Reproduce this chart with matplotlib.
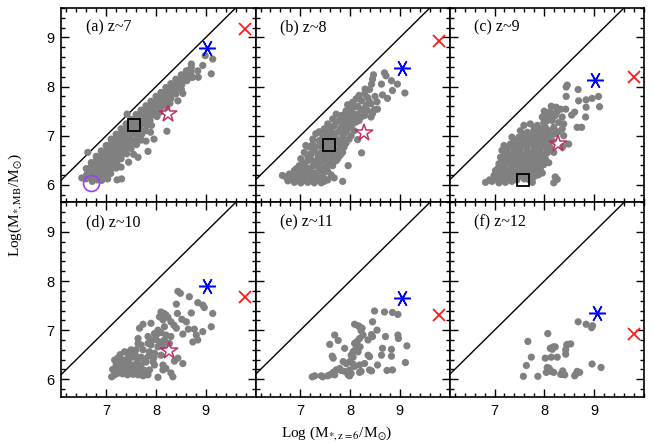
import matplotlib
matplotlib.use('Agg')
import matplotlib.pyplot as plt
from matplotlib.ticker import MultipleLocator

plt.rcParams['font.family'] = ['Liberation Serif', 'DejaVu Serif']
plt.rcParams['mathtext.fontset'] = 'stix'

panel_labels = ['(a) z~7', '(b) z~8', '(c) z~9', '(d) z~10', '(e) z~11', '(f) z~12']
xticks = [7, 8, 9]
yticks = [6, 7, 8, 9]

gray_a = [
    (6.60, 6.33), (6.61, 6.21), (6.59, 6.12),
    (6.70, 6.45), (6.69, 6.36), (6.71, 6.26), (6.70, 6.16), (6.72, 6.07),
    (6.80, 6.58), (6.79, 6.48), (6.81, 6.39), (6.80, 6.29), (6.78, 6.19), (6.82, 6.10),
    (6.90, 6.69), (6.91, 6.60), (6.89, 6.50), (6.90, 6.39), (6.92, 6.29), (6.89, 6.19), (6.91, 6.09),
    (7.00, 6.80), (7.01, 6.70), (6.99, 6.61), (7.00, 6.49), (7.02, 6.39), (6.99, 6.29), (7.01, 6.19),
    (7.10, 6.93), (7.09, 6.83), (7.11, 6.74), (7.10, 6.63), (7.08, 6.53), (7.11, 6.43), (7.10, 6.33), (7.09, 6.23),
    (7.20, 7.03), (7.21, 6.93), (7.19, 6.83), (7.20, 6.73), (7.22, 6.64), (7.19, 6.53), (7.21, 6.43), (7.20, 6.34),
    (7.30, 7.14), (7.29, 7.04), (7.31, 6.94), (7.30, 6.83), (7.28, 6.73), (7.31, 6.63), (7.30, 6.53),
    (7.40, 7.24), (7.41, 7.14), (7.39, 7.04), (7.40, 6.93), (7.42, 6.83), (7.39, 6.73), (7.41, 6.63),
    (7.50, 7.33), (7.49, 7.24), (7.51, 7.14), (7.50, 7.04), (7.48, 6.94), (7.51, 6.83), (7.50, 6.74),
    (7.60, 7.43), (7.61, 7.33), (7.59, 7.23), (7.60, 7.12), (7.62, 7.02), (7.59, 6.92), (7.61, 6.82),
    (7.70, 7.52), (7.69, 7.42), (7.71, 7.32), (7.70, 7.22), (7.68, 7.12), (7.71, 7.02), (7.70, 6.91),
    (7.80, 7.61), (7.81, 7.51), (7.79, 7.41), (7.80, 7.31), (7.82, 7.21), (7.79, 7.10),
    (7.90, 7.70), (7.89, 7.61), (7.91, 7.51), (7.90, 7.41), (7.88, 7.31), (7.91, 7.21),
    (8.00, 7.80), (8.01, 7.69), (7.99, 7.59), (8.00, 7.49), (8.02, 7.39),
    (8.10, 7.88), (8.09, 7.78), (8.11, 7.68), (8.10, 7.58), (8.08, 7.48),
    (8.20, 7.98), (8.21, 7.88), (8.19, 7.78), (8.20, 7.68), (8.22, 7.58),
    (8.30, 8.06), (8.29, 7.96), (8.31, 7.86), (8.30, 7.76), (8.28, 7.66),
    (8.40, 8.15), (8.41, 8.05), (8.39, 7.95), (8.40, 7.85),
    (8.51, 8.24), (8.50, 8.14), (8.52, 8.04), (8.51, 7.94),
    (8.61, 8.32), (8.60, 8.22), (8.62, 8.12),
    (8.71, 8.39), (8.70, 8.29), (8.72, 8.19),
    (8.99, 8.63), (9.14, 8.56), (8.71, 8.46), (8.94, 8.43), (9.11, 8.26), (8.84, 8.32),
    (8.64, 8.32), (8.74, 8.19), (8.85, 8.19), (8.54, 8.12), (8.44, 7.98), (8.54, 7.86),
    (8.37, 7.86), (8.44, 7.71), (8.00, 7.41), (8.22, 7.09), (7.89, 7.07), (7.80, 6.89),
    (7.96, 6.93), (7.84, 6.68), (7.55, 6.62), (7.45, 6.46), (7.64, 6.56), (7.30, 6.36),
    (7.22, 6.10), (7.31, 6.12), (7.03, 6.12), (6.51, 6.14), (6.63, 6.66), (7.42, 7.44),
]

gray_b = [
    (8.69, 8.28), (8.72, 8.22), (8.47, 8.24), (8.45, 8.15), (8.83, 8.12), (8.95, 8.05),
    (8.63, 8.05), (8.85, 7.92), (9.10, 7.87), (8.43, 8.05), (8.39, 7.94), (8.65, 7.83),
    (8.75, 7.76), (8.54, 7.69), (8.29, 7.85), (8.18, 7.82), (8.35, 7.78), (8.23, 7.71),
    (8.12, 7.75), (8.05, 7.68), (8.42, 7.65), (8.32, 7.61), (8.49, 7.53), (8.55, 7.54),
    (7.95, 7.63), (8.08, 7.58), (8.22, 7.54), (8.35, 7.51), (7.92, 7.51), (8.03, 7.48),
    (8.15, 7.44), (8.29, 7.41), (8.42, 7.38), (7.72, 7.44), (7.82, 7.41), (7.95, 7.38),
    (8.08, 7.34), (8.18, 7.31), (7.65, 7.34), (7.78, 7.31), (7.92, 7.27), (8.05, 7.24),
    (7.55, 7.24), (7.68, 7.20), (7.82, 7.17), (7.95, 7.14), (8.08, 7.10), (7.48, 7.14),
    (7.62, 7.10), (7.75, 7.07), (7.88, 7.04), (8.02, 7.00), (7.31, 7.04), (7.45, 7.00),
    (7.58, 6.97), (7.72, 6.93), (7.85, 6.90), (7.25, 6.93), (7.38, 6.90), (7.52, 6.87),
    (7.65, 6.85), (7.78, 6.83), (7.88, 6.77), (8.15, 6.92), (8.23, 6.65), (7.11, 6.80),
    (7.18, 6.77), (7.31, 6.77), (7.45, 6.73), (7.58, 6.73), (7.72, 6.70), (7.85, 6.66),
    (7.08, 6.66), (7.21, 6.63), (7.35, 6.61), (7.48, 6.60), (7.62, 6.61), (7.75, 6.53),
    (7.72, 6.49), (7.01, 6.53), (7.15, 6.49), (7.28, 6.47), (7.42, 6.46), (7.55, 6.46),
    (6.98, 6.39), (7.11, 6.36), (7.25, 6.38), (7.38, 6.32), (7.52, 6.36), (7.65, 6.39),
    (7.96, 6.39), (6.88, 6.29), (7.01, 6.26), (7.15, 6.27), (7.28, 6.24), (7.42, 6.26),
    (7.55, 6.27), (6.78, 6.22), (6.64, 6.19), (6.71, 6.16), (6.81, 6.12), (6.95, 6.11),
    (7.08, 6.09), (7.21, 6.09), (7.35, 6.11), (7.48, 6.12), (7.68, 6.14), (7.85, 6.07),
    (6.88, 6.05), (7.01, 6.04), (7.15, 6.05), (7.28, 6.04), (7.42, 6.04), (7.48, 6.07),
    (6.75, 6.08), (6.85, 6.18), (6.95, 6.22), (7.05, 6.15), (7.12, 6.20), (7.22, 6.15),
    (7.32, 6.18), (7.45, 6.18), (7.55, 6.10), (7.62, 6.20), (6.92, 6.33), (7.05, 6.32),
    (7.18, 6.32), (7.32, 6.40), (7.45, 6.33), (7.58, 6.40), (7.05, 6.45), (7.20, 6.55),
    (7.35, 6.52), (7.48, 6.53), (7.62, 6.50), (7.15, 6.58), (7.28, 6.70), (7.42, 6.66),
    (7.55, 6.62), (7.68, 6.62), (7.80, 6.60), (7.25, 6.83), (7.40, 6.80), (7.52, 6.80),
    (7.65, 6.78), (7.80, 6.75), (7.92, 6.85), (7.45, 6.93), (7.60, 6.92), (7.72, 6.87),
    (7.85, 6.97), (7.98, 6.93), (7.38, 7.08), (7.52, 7.05), (7.68, 7.02), (7.80, 7.12),
    (7.92, 7.08), (7.58, 7.18), (7.72, 7.28), (7.88, 7.22), (8.00, 7.20), (7.85, 7.35),
    (7.98, 7.30), (8.12, 7.28), (7.90, 7.45), (8.08, 7.42), (8.22, 7.38), (8.00, 7.55),
    (8.15, 7.60), (8.28, 7.50), (8.38, 7.70), (8.30, 7.95), (8.50, 7.80), (8.45, 7.45),
]

gray_c = [
    (8.46, 8.03), (8.44, 7.99), (8.68, 7.94), (8.44, 7.80), (8.69, 7.71), (8.84, 7.73),
    (8.96, 7.76), (9.09, 7.80), (8.84, 7.58), (9.11, 7.59), (8.83, 7.38), (8.14, 7.60),
    (8.24, 7.58), (8.33, 7.54), (8.12, 7.49), (8.06, 7.44), (8.43, 7.54), (8.55, 7.42),
    (8.61, 7.48), (7.96, 7.38), (8.09, 7.38), (8.22, 7.41), (8.36, 7.38), (7.99, 7.27),
    (8.16, 7.31), (8.29, 7.27), (8.39, 7.24), (7.59, 7.21), (7.72, 7.24), (7.86, 7.21),
    (8.02, 7.17), (8.19, 7.17), (8.36, 7.14), (8.66, 7.17), (8.75, 7.17), (7.52, 7.10),
    (7.66, 7.07), (7.79, 7.10), (7.92, 7.07), (8.06, 7.06), (8.22, 7.04), (8.39, 7.00),
    (7.35, 6.97), (7.49, 6.97), (7.62, 6.94), (7.76, 6.95), (7.89, 6.97), (8.02, 6.94),
    (8.16, 6.90), (8.49, 6.83), (8.37, 6.77), (7.19, 6.80), (7.32, 6.83), (7.45, 6.83),
    (7.59, 6.80), (7.72, 6.83), (7.86, 6.80), (7.99, 6.80), (8.12, 6.76), (7.15, 6.70),
    (7.25, 6.66), (7.39, 6.70), (7.52, 6.66), (7.66, 6.68), (7.79, 6.70), (7.92, 6.68),
    (8.06, 6.65), (8.19, 6.66), (7.12, 6.56), (7.22, 6.53), (7.35, 6.56), (7.49, 6.53),
    (7.62, 6.54), (7.76, 6.56), (7.89, 6.53), (8.02, 6.53), (7.09, 6.43), (7.19, 6.39),
    (7.32, 6.43), (7.45, 6.41), (7.59, 6.43), (7.72, 6.39), (7.86, 6.43), (7.99, 6.41),
    (8.09, 6.45), (7.02, 6.29), (7.15, 6.27), (7.29, 6.29), (7.42, 6.26), (7.56, 6.29),
    (7.69, 6.27), (7.82, 6.29), (7.96, 6.24), (8.22, 6.16), (6.99, 6.19), (7.12, 6.16),
    (7.25, 6.19), (7.39, 6.16), (7.52, 6.18), (7.66, 6.19), (7.79, 6.16), (6.82, 6.05),
    (6.95, 6.07), (7.09, 6.04), (7.22, 6.05), (7.35, 6.07), (7.76, 6.05), (8.26, 6.11),
    (8.19, 6.04),
    (6.90, 6.10), (7.02, 6.12), (7.15, 6.10), (7.28, 6.12), (7.45, 6.10), (7.60, 6.12),
    (7.70, 6.10), (7.05, 6.22), (7.19, 6.22), (7.32, 6.24), (7.46, 6.21), (7.60, 6.24),
    (7.72, 6.22), (7.88, 6.20), (7.08, 6.35), (7.22, 6.33), (7.38, 6.35), (7.52, 6.35),
    (7.66, 6.34), (7.79, 6.35), (7.92, 6.32), (7.16, 6.48), (7.29, 6.48), (7.42, 6.48),
    (7.55, 6.48), (7.69, 6.47), (7.82, 6.48), (7.95, 6.48), (7.20, 6.61), (7.32, 6.61),
    (7.45, 6.61), (7.58, 6.60), (7.72, 6.62), (7.85, 6.62), (7.98, 6.60), (7.26, 6.75),
    (7.40, 6.76), (7.52, 6.74), (7.65, 6.75), (7.80, 6.75), (7.92, 6.74), (8.06, 6.72),
    (7.40, 6.90), (7.55, 6.88), (7.68, 6.88), (7.82, 6.88), (7.95, 6.88), (8.09, 6.86),
    (7.58, 7.02), (7.72, 7.00), (7.85, 7.02), (7.99, 7.01), (8.12, 6.98), (7.80, 7.15),
    (7.93, 7.14), (8.10, 7.10), (8.28, 7.08), (8.05, 7.30), (8.25, 7.48), (8.00, 7.50),
]

gray_d = [
    (8.44, 7.79), (8.49, 7.75), (8.67, 7.68), (8.84, 7.56), (8.94, 7.51), (8.97, 7.46),
    (8.41, 7.53), (8.71, 7.35), (9.14, 7.34), (8.43, 7.34), (8.10, 7.37), (8.16, 7.34),
    (8.20, 7.31), (8.07, 7.27), (8.24, 7.26), (8.14, 7.21), (8.30, 7.17), (8.36, 7.10),
    (8.52, 7.22), (8.61, 7.17), (8.41, 7.04), (8.17, 7.07), (7.90, 7.14), (7.74, 7.12),
    (7.67, 7.04), (8.77, 7.02), (8.65, 7.02), (9.11, 7.07), (8.94, 6.97), (8.04, 7.00),
    (7.97, 6.93), (8.10, 6.95), (8.20, 6.90), (8.30, 6.87), (8.54, 6.92), (8.81, 6.90),
    (7.64, 6.83), (7.84, 6.87), (8.00, 6.81), (8.07, 6.76), (8.17, 6.80), (8.27, 6.73),
    (8.74, 6.76), (8.84, 6.80), (7.64, 6.73), (7.70, 6.70), (7.84, 6.73), (7.90, 6.70),
    (8.04, 6.66), (8.14, 6.68), (7.37, 6.56), (7.50, 6.60), (7.60, 6.60), (7.74, 6.60),
    (7.87, 6.56), (7.97, 6.53), (8.10, 6.49), (8.44, 6.43), (8.37, 6.37), (7.17, 6.39),
    (7.23, 6.43), (7.33, 6.39), (7.43, 6.43), (7.54, 6.45), (7.64, 6.41), (7.77, 6.41),
    (7.94, 6.36), (7.20, 6.29), (7.30, 6.33), (7.40, 6.29), (7.50, 6.29), (7.60, 6.31),
    (7.70, 6.29), (7.97, 6.29), (8.14, 6.29), (8.20, 6.22), (8.14, 6.19), (8.54, 6.32),
    (7.13, 6.20), (7.27, 6.20), (7.37, 6.22), (7.47, 6.19), (7.57, 6.22), (7.67, 6.19),
    (7.77, 6.18), (7.87, 6.19), (8.30, 6.13), (7.84, 6.09), (7.17, 6.09), (7.23, 6.12),
    (7.33, 6.11), (7.43, 6.09), (7.54, 6.10), (7.64, 6.09), (7.74, 6.07), (8.04, 6.04),
    (8.34, 6.05), (7.11, 6.05),
    (7.25, 6.27), (7.45, 6.35), (7.55, 6.15), (7.35, 6.15), (7.65, 6.25), (7.80, 6.35),
    (7.28, 6.50), (7.58, 6.50), (7.85, 6.47), (7.20, 6.13), (7.70, 6.45), (7.45, 6.55),
    (7.96, 6.45), (7.92, 6.80), (8.02, 6.92),
]

gray_e = [
    (8.49, 7.39), (8.69, 7.37), (8.85, 7.36), (8.96, 7.32), (8.45, 7.17), (8.09, 7.12),
    (8.16, 7.09), (8.19, 7.07), (8.24, 7.04), (8.22, 6.99), (8.54, 7.00), (7.69, 6.90),
    (8.26, 6.90), (8.43, 6.91), (8.45, 6.87), (8.71, 6.87), (8.96, 6.90), (8.97, 6.83),
    (7.76, 6.79), (7.59, 6.71), (8.19, 6.83), (8.14, 6.77), (8.36, 6.80), (8.09, 6.73),
    (7.89, 6.63), (8.20, 6.66), (8.11, 6.61), (8.06, 6.56), (8.16, 6.56), (9.14, 6.68),
    (8.65, 6.63), (8.83, 6.61), (7.64, 6.47), (7.66, 6.43), (8.02, 6.49), (8.06, 6.45),
    (8.36, 6.49), (8.39, 6.46), (8.63, 6.49), (8.83, 6.47), (7.86, 6.36), (7.92, 6.32),
    (7.99, 6.36), (8.06, 6.31), (8.09, 6.26), (8.29, 6.32), (8.19, 6.29), (8.55, 6.29),
    (9.11, 6.34), (7.79, 6.22), (7.72, 6.19), (7.82, 6.18), (7.99, 6.19), (8.02, 6.12),
    (8.22, 6.16), (8.39, 6.19), (8.43, 6.17), (8.74, 6.18), (8.85, 6.19), (7.66, 6.14),
    (7.69, 6.09), (7.89, 6.16), (7.96, 6.09), (8.19, 6.14), (7.24, 6.05), (7.29, 6.07),
    (7.42, 6.07), (7.45, 6.05), (7.55, 6.07), (7.59, 6.09), (7.99, 6.07),
]

gray_f = [
    (8.68, 7.17), (8.84, 7.12), (8.95, 7.05), (8.97, 7.09), (8.07, 6.93), (7.67, 6.77),
    (8.18, 6.66), (8.12, 6.63), (8.22, 6.66), (8.16, 6.61), (8.47, 6.71), (8.53, 6.72),
    (8.45, 6.70), (8.43, 6.60), (8.43, 6.51), (7.74, 6.45), (8.02, 6.43), (8.14, 6.45),
    (8.26, 6.45), (7.64, 6.28), (8.96, 6.31), (9.14, 6.24), (8.06, 6.24), (8.10, 6.22),
    (8.07, 6.18), (8.14, 6.16), (8.19, 6.14), (8.04, 6.14), (8.37, 6.17), (8.36, 6.10),
    (8.41, 6.09), (8.33, 6.10), (8.66, 6.16), (8.63, 6.10), (8.61, 6.07), (8.71, 6.14),
    (7.87, 6.06), (7.58, 6.06),
]

gray_sets = [gray_a, gray_b, gray_c, gray_d, gray_e, gray_f]

blue_pts = [(9.03, 8.78), (9.05, 8.38), (9.01, 8.14), (9.03, 7.90), (9.05, 7.66), (9.05, 7.34)]
red_pts = [(9.78, 9.18), (9.79, 8.93), (9.80, 8.20), (9.78, 7.68), (9.79, 7.30), (9.80, 6.93)]
star_pts = [(8.25, 7.44), (8.27, 7.05), (8.27, 6.83), (8.27, 6.57), None, None]
square_pts = [(7.56, 7.21), (7.57, 6.81), (7.57, 6.09), None, None, None]
circle_pts = [(6.70, 6.03), None, None, None, None, None]

fig, axes = plt.subplots(2, 3, figsize=(6.53, 4.45), dpi=100, sharex=True, sharey=True)
fig.subplots_adjust(left=0.094, right=0.986, top=0.982, bottom=0.108, wspace=0, hspace=0)

for i, ax in enumerate(axes.flat):
    ax.axline((6.0, 6.0), slope=1, color='black', lw=1.0, zorder=1)
    gx = [p[0] for p in gray_sets[i]]
    gy = [p[1] for p in gray_sets[i]]
    ax.scatter(gx, gy, s=27, c='#808080', edgecolors='none', zorder=2)
    ax.plot([blue_pts[i][0]], [blue_pts[i][1]], ls='none', marker=(6, 2, 30), ms=12,
            mec='#0000ff', mew=1.1, zorder=4)
    ax.plot([red_pts[i][0]], [red_pts[i][1]], ls='none', marker='x', ms=8,
            mec='#ff1a1a', mew=1.3, zorder=4)
    if star_pts[i] is not None:
        ax.plot([star_pts[i][0]], [star_pts[i][1]], ls='none', marker='*', ms=13,
                mfc='none', mec='#c0306a', mew=1.1, zorder=4)
    if square_pts[i] is not None:
        ax.plot([square_pts[i][0]], [square_pts[i][1]], ls='none', marker='s', ms=8.5,
                mfc='none', mec='black', mew=1.3, zorder=4)
    if circle_pts[i] is not None:
        ax.plot([circle_pts[i][0]], [circle_pts[i][1]], ls='none', marker='o', ms=11.5,
                mfc='none', mec='#a040f0', mew=1.2, zorder=4)

    ax.set_xlim(6.1, 10.0)
    ax.set_ylim(5.64, 9.6)
    ax.xaxis.set_major_locator(MultipleLocator(1))
    ax.xaxis.set_minor_locator(MultipleLocator(0.2))
    ax.yaxis.set_major_locator(MultipleLocator(1))
    ax.yaxis.set_minor_locator(MultipleLocator(0.2))
    ax.set_xticks(xticks)
    ax.set_yticks(yticks)
    ax.tick_params(which='both', direction='in', top=True, right=True, width=1.0)
    ax.tick_params(which='major', length=5.5, labelsize=10.5, pad=5)
    ax.tick_params(which='minor', length=3)
    for lab in ax.get_xticklabels() + ax.get_yticklabels():
        lab.set_family(['Liberation Sans', 'DejaVu Sans'])
    for sp in ax.spines.values():
        sp.set_linewidth(1.2)
    ax.text(0.125, 0.90, panel_labels[i], transform=ax.transAxes, fontsize=11.5,
            va='center', ha='left')

fig.text(0.023, 0.54, r'Log(M$_{*,\mathrm{MB}}$/M$_{\odot}$)', rotation=90,
         ha='center', va='center', fontsize=11)
fig.text(0.515, 0.027, r'Log (M$_{*,\mathrm{z=6}}$/M$_{\odot}$)', ha='center',
         va='center', fontsize=11)

fig.savefig('out.png', dpi=100)
